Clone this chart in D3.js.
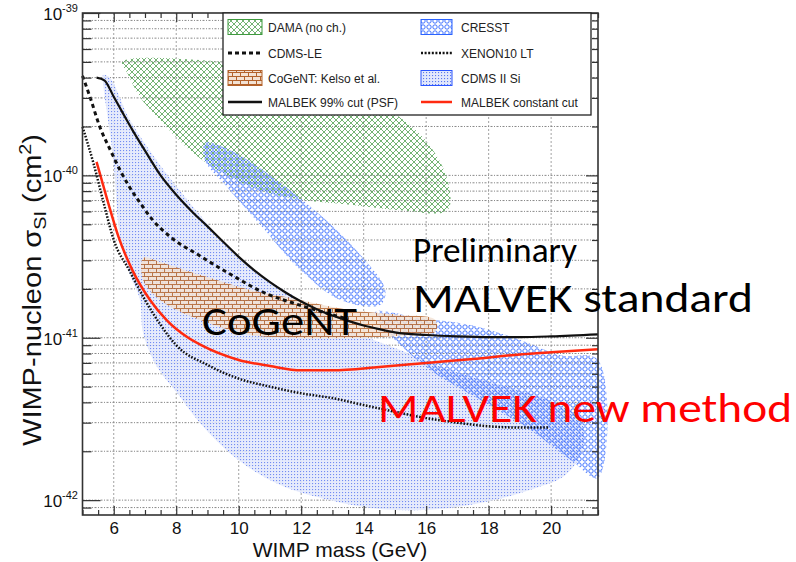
<!DOCTYPE html>
<html><head><meta charset="utf-8">
<script src="https://cdn.jsdelivr.net/npm/d3@7/dist/d3.min.js"></script>
<style>body{margin:0;background:#fff}svg{display:block}</style>
</head><body><svg id="c" width="796" height="562"></svg>
<script>
// ---------- data ----------
const massDomain = [5, 21.5];
const sigmaDomain = [8.1e-43, 1e-39];
const massTicks = [6, 8, 10, 12, 14, 16, 18, 20];
const decadeTicks = [1e-42, 1e-41, 1e-40, 1e-39];
const decadeLabels = ["-42", "-41", "-40", "-39"];

const damaRegion = [[6.27,5.0e-40],[8.76,5.14e-40],[11.97,4.15e-40],[14.53,2.71e-40],[15.97,1.65e-40],[16.68,9.4e-41],[16.68,6.1e-41],[15.17,6.1e-41],[13.57,6.6e-41],[11.97,7.1e-41],[10.69,8.1e-41],[9.5,1.03e-40],[8.44,1.43e-40],[7.39,2.29e-40],[6.84,3.04e-40],[6.43,4.28e-40]];
const cresstRegionA = [[8.92,1.58e-40],[9.73,1.43e-40],[11.01,1.0e-40],[12.61,5.7e-41],[13.89,3.24e-41],[14.69,1.97e-41],[14.53,1.59e-41],[13.25,1.71e-41],[11.97,2.62e-41],[10.69,4.96e-41],[9.57,8.73e-41],[8.92,1.24e-40]];
const cresstRegionB = [[14.37,1.44e-41],[15.81,1.32e-41],[17.42,1.2e-41],[19.02,9.7e-42],[20.3,7.8e-42],[21.5,7.3e-42],[21.5,1.37e-42],[20.62,1.77e-42],[19.34,2.7e-42],[17.74,4.14e-42],[16.13,6.34e-42],[14.85,1.04e-41]];
const cdmsSiRegion = [[5.66,4.15e-40],[5.88,3.98e-40],[6.52,2.19e-40],[7.48,1.16e-40],[8.76,5.7e-41],[9.73,3.48e-41],[10.69,2.44e-41],[11.97,1.71e-41],[13.57,1.12e-41],[15.17,8.4e-42],[16.78,6.3e-42],[18.38,5.1e-42],[19.98,4.1e-42],[20.94,3.1e-42],[21.0,2.04e-42],[20.46,1.43e-42],[19.34,1.16e-42],[17.74,9.6e-43],[16.33,8.8e-43],[14.6,8.8e-43],[12.93,1.0e-42],[11.33,1.24e-42],[9.98,1.77e-42],[8.76,2.99e-42],[8.03,4.57e-42],[7.39,6.6e-42],[6.94,1.07e-41],[6.84,1.71e-41],[6.52,2.44e-41],[6.2,4.18e-41],[5.98,1.3e-40],[5.66,3.71e-40]];
const cogentRegion = [[6.94,3.1e-41],[7.48,2.93e-41],[8.76,2.44e-41],[10.37,1.97e-41],[11.97,1.71e-41],[13.57,1.48e-41],[15.17,1.38e-41],[16.29,1.29e-41],[16.29,1.09e-41],[15.17,1.03e-41],[13.57,9.97e-42],[11.97,9.97e-42],[10.37,1.04e-41],[8.76,1.29e-41],[7.48,1.71e-41],[6.94,2.27e-41]];

const malbekPsf = [[5.45,4.0e-40],[5.7,3.85e-40],[6.0,3.05e-40],[6.3,2.4e-40],[6.6,1.9e-40],[7.0,1.42e-40],[7.5,1.0e-40],[8.0,7.6e-41],[8.5,6.0e-41],[9.0,4.85e-41],[9.5,3.9e-41],[10,3.15e-41],[10.5,2.6e-41],[11,2.2e-41],[11.5,1.9e-41],[12,1.67e-41],[12.5,1.5e-41],[13,1.37e-41],[13.5,1.27e-41],[14,1.19e-41],[14.5,1.13e-41],[15,1.08e-41],[16,1.04e-41],[17,1.02e-41],[18,1.01e-41],[19,1.01e-41],[20,1.02e-41],[21.5,1.05e-41]];
const cdmsLe = [[5.0,4.1e-40],[5.25,3.0e-40],[5.55,2.0e-40],[5.9,1.42e-40],[6.2,1.08e-40],[6.5,8.5e-41],[6.85,6.75e-41],[7.25,5.3e-41],[7.8,4.2e-41],[8.75,3.2e-41],[9.75,2.45e-41],[10.8,1.9e-41],[11.9,1.6e-41],[12.8,1.42e-41],[13.5,1.3e-41]];
const xenon10 = [[5.0,1.99e-40],[5.35,1.19e-40],[5.7,6.5e-41],[6.0,4.0e-41],[6.5,2.6e-41],[7,1.71e-41],[7.5,1.2e-41],[8,9.0e-42],[9,6.8e-42],[10,5.6e-42],[11,5.0e-42],[12,4.55e-42],[13,4.25e-42],[14,3.85e-42],[15,3.5e-42],[16,3.2e-42],[17,3.0e-42],[18,2.85e-42],[19,2.8e-42],[19.9,2.8e-42]];
const malbekConst = [[5.45,1.21e-40],[5.8,7.0e-41],[6.15,4.2e-41],[6.6,2.6e-41],[7.15,1.72e-41],[7.7,1.28e-41],[8.35,1.01e-41],[8.8,9.0e-42],[10,7.3e-42],[11,6.7e-42],[12,6.3e-42],[13,6.3e-42],[14.5,6.6e-42],[16,7.0e-42],[17.5,7.4e-42],[19,7.9e-42],[20,8.15e-42],[21.5,8.5e-42]];

const legendItems = [
  {label:"DAMA (no ch.)", kind:"fill", pat:"pDama", stroke:"#3f9a3f"},
  {label:"CRESST", kind:"fill", pat:"pCresst", stroke:"#2b63ff"},
  {label:"CDMS-LE", kind:"line", color:"#111", dash:"4,3", w:3},
  {label:"XENON10 LT", kind:"line", color:"#111", dash:"2,1.6", w:2.5},
  {label:"CoGeNT: Kelso et al.", kind:"fill", pat:"pCogent", stroke:"#b3622b"},
  {label:"CDMS II Si", kind:"fill", pat:"pSi", stroke:"#2b55ff"},
  {label:"MALBEK 99% cut (PSF)", kind:"line", color:"#111", dash:null, w:2.5},
  {label:"MALBEK constant cut", kind:"line", color:"#ff2a10", dash:null, w:2.5}
];

// ---------- layout ----------
const L = 82.5, R = 598, T = 13, B = 515;
const svg = d3.select("#c");
const x = d3.scaleLinear().domain(massDomain).range([L, R]);
const y = d3.scaleLog().domain(sigmaDomain).range([B, T]);

// patterns
const defs = svg.append("defs");
const pd = defs.append("pattern").attr("id","pDama").attr("patternUnits","userSpaceOnUse").attr("width",6).attr("height",6);
pd.append("path").attr("d","M0,0L6,6M6,0L0,6M-1,5L1,7M5,-1L7,1").attr("stroke","#4f9f4f").attr("stroke-width",0.8).attr("fill","none");
const pc = defs.append("pattern").attr("id","pCresst").attr("patternUnits","userSpaceOnUse").attr("width",6).attr("height",6);
pc.append("circle").attr("cx",3).attr("cy",3).attr("r",2.2).attr("fill","none").attr("stroke","#2b63ff").attr("stroke-width",0.9);
const pg = defs.append("pattern").attr("id","pCogent").attr("patternUnits","userSpaceOnUse").attr("width",8).attr("height",8);
pg.append("rect").attr("width",8).attr("height",8).attr("fill","#f3e2d4");
pg.append("path").attr("d","M0,0.5H8M0,4.5H8M0.5,0.5V4.5M4.5,4.5V8").attr("stroke","#b3622b").attr("stroke-width",1).attr("fill","none");
const ps = defs.append("pattern").attr("id","pSi").attr("patternUnits","userSpaceOnUse").attr("width",3).attr("height",3);
ps.append("rect").attr("width",3).attr("height",3).attr("fill","#e2e8fc");
ps.append("rect").attr("width",1.1).attr("height",1.1).attr("fill","#5a78f0");

// grid
const yMinor = [];
for (let e = -43; e <= -40; e++) for (let k = 1; k <= 9; k++) { const v = k * Math.pow(10, e); if (v >= sigmaDomain[0] && v <= sigmaDomain[1]) yMinor.push(v); }
const grid = svg.append("g");
grid.selectAll("line.h").data(yMinor).join("line").attr("x1",L).attr("x2",R).attr("y1",d=>y(d)).attr("y2",d=>y(d))
  .attr("stroke","#6a6a6a").attr("stroke-width",0.8).attr("stroke-dasharray","2,1.5,1,1.5");
grid.selectAll("line.v").data(massTicks).join("line").attr("y1",T).attr("y2",B).attr("x1",d=>x(d)).attr("x2",d=>x(d))
  .attr("stroke","#8a8a8a").attr("stroke-width",0.8).attr("stroke-dasharray","2,2");

// regions
const area = d3.line().x(d=>x(d[0])).y(d=>y(d[1])).curve(d3.curveCatmullRomClosed.alpha(0.5));
const plot = svg.append("g");
plot.append("path").datum(cdmsSiRegion).attr("d",area).attr("fill","url(#pSi)").attr("opacity",0.85);
plot.append("path").datum(damaRegion).attr("d",area).attr("fill","url(#pDama)");
plot.append("path").datum(cresstRegionA).attr("d",area).attr("fill","url(#pCresst)");
plot.append("path").datum(cresstRegionB).attr("d",area).attr("fill","url(#pCresst)");
plot.append("path").datum(cogentRegion).attr("d",area).attr("fill","url(#pCogent)").attr("opacity",0.85);

// lines
const line = d3.line().x(d=>x(d[0])).y(d=>y(d[1])).curve(d3.curveMonotoneX);
plot.append("path").datum(cdmsLe).attr("d",line).attr("fill","none").attr("stroke","#111").attr("stroke-width",3).attr("stroke-dasharray","4,3.5");
plot.append("path").datum(xenon10).attr("d",line).attr("fill","none").attr("stroke","#111").attr("stroke-width",2.5).attr("stroke-dasharray","1.6,1.6");
plot.append("path").datum(malbekPsf).attr("d",line).attr("fill","none").attr("stroke","#111").attr("stroke-width",2.2);
plot.append("path").datum(malbekConst).attr("d",line).attr("fill","none").attr("stroke","#ff2a10").attr("stroke-width",2.5);

// axes
const xMinor = d3.range(5, 21.51, 0.5).filter(v => !massTicks.includes(v));
function styleAxis(g){ g.select(".domain").remove(); g.selectAll(".tick line").attr("stroke","#333").attr("stroke-width",1.2); }
svg.append("g").attr("transform",`translate(0,${B})`).call(d3.axisBottom(x).tickValues(massTicks).tickSizeInner(-9).tickSizeOuter(0).tickPadding(7).tickFormat(d3.format("d")))
  .call(styleAxis).call(g=>g.selectAll("text").attr("font-family","Liberation Sans, Arial, sans-serif").attr("font-size",17).attr("fill","#111"));
svg.append("g").attr("transform",`translate(0,${B})`).call(d3.axisBottom(x).tickValues(xMinor).tickSizeInner(-5).tickSizeOuter(0).tickFormat(""))
  .call(styleAxis);
svg.append("g").attr("transform",`translate(0,${T})`).call(d3.axisTop(x).tickValues(massTicks).tickSizeInner(-9).tickSizeOuter(0).tickFormat("")).call(styleAxis);
svg.append("g").attr("transform",`translate(0,${T})`).call(d3.axisTop(x).tickValues(xMinor).tickSizeInner(-5).tickSizeOuter(0).tickFormat("")).call(styleAxis);
const yMinorOnly = yMinor.filter(v => !decadeTicks.some(d => Math.abs(d - v) / d < 1e-6));
svg.append("g").attr("transform",`translate(${L},0)`).call(d3.axisLeft(y).tickValues(decadeTicks).tickSizeInner(-18).tickSizeOuter(0).tickPadding(5).tickFormat(""))
  .call(styleAxis);
svg.append("g").attr("transform",`translate(${L},0)`).call(d3.axisLeft(y).tickValues(yMinorOnly).tickSizeInner(-9).tickSizeOuter(0).tickFormat("")).call(styleAxis);
svg.append("g").attr("transform",`translate(${R},0)`).call(d3.axisRight(y).tickValues(decadeTicks).tickSizeInner(-12).tickSizeOuter(0).tickFormat("")).call(styleAxis);
svg.append("g").attr("transform",`translate(${R},0)`).call(d3.axisRight(y).tickValues(yMinorOnly).tickSizeInner(-6).tickSizeOuter(0).tickFormat("")).call(styleAxis);

// y labels with superscripts
const ylab = svg.append("g").attr("font-family","Liberation Sans, Arial, sans-serif").attr("fill","#111");
decadeTicks.forEach((v,i) => {
  const t = ylab.append("text").attr("x", 78).attr("y", y(v) + 7).attr("text-anchor","end").attr("font-size",17);
  t.append("tspan").text("10");
  t.append("tspan").attr("font-size",11).attr("dy",-8).text(decadeLabels[i]);
});

// frame
svg.append("rect").attr("x",L).attr("y",T).attr("width",R-L).attr("height",B-T).attr("fill","none").attr("stroke","#333").attr("stroke-width",1.6);

// axis titles
svg.append("text").attr("x",340).attr("y",557).attr("text-anchor","middle").attr("font-family","Liberation Sans, Arial, sans-serif").attr("font-size",21).attr("fill","#111").text("WIMP mass (GeV)");
const yt = svg.append("text").attr("transform","translate(41,290) rotate(-90)").attr("text-anchor","middle").attr("font-family","Liberation Sans, Arial, sans-serif").attr("font-size",25).attr("fill","#111")
  .attr("textLength",312).attr("lengthAdjust","spacingAndGlyphs");
yt.append("tspan").text("WIMP-nucleon σ");
yt.append("tspan").attr("font-size",17).attr("dy",5).text("SI");
yt.append("tspan").attr("dy",-5).text(" (cm");
yt.append("tspan").attr("font-size",17).attr("dy",-10).text("2");
yt.append("tspan").attr("dy",10).text(")");

// legend
const lg = svg.append("g");
lg.append("rect").attr("x",223).attr("y",T).attr("width",368).attr("height",102).attr("fill","#fff").attr("stroke","#222").attr("stroke-width",1.3);
const rowY = [27, 53, 78, 102];
legendItems.forEach((it, i) => {
  const col = i % 2, row = Math.floor(i / 2);
  const sx = col === 0 ? 228 : 421, sw = col === 0 ? 34 : 31, tx = col === 0 ? 268 : 461;
  const cy = rowY[row];
  if (it.kind === "fill") {
    lg.append("rect").attr("x",sx).attr("y",cy-7.5).attr("width",sw).attr("height",15).attr("fill",`url(#${it.pat})`).attr("stroke",it.stroke).attr("stroke-width",1);
  } else {
    lg.append("line").attr("x1",sx).attr("x2",sx+sw).attr("y1",cy).attr("y2",cy).attr("stroke",it.color).attr("stroke-width",it.w).attr("stroke-dasharray",it.dash);
  }
  lg.append("text").attr("x",tx).attr("y",cy+4.5).attr("font-family","Liberation Sans, Arial, sans-serif").attr("font-size",12).attr("fill","#222").text(it.label);
});

// annotations
const ann = svg.append("g").attr("font-family","Carlito, Lato, 'Open Sans', sans-serif");
ann.append("text").attr("x",413).attr("y",262).attr("font-size",34).attr("fill","#000").attr("textLength",164).attr("lengthAdjust","spacingAndGlyphs").text("Preliminary");
ann.append("text").attr("x",413).attr("y",312).attr("font-size",42).attr("fill","#000").attr("textLength",340).attr("lengthAdjust","spacingAndGlyphs").text("MALVEK standard");
ann.append("text").attr("x",202).attr("y",335).attr("font-size",42).attr("fill","#000").attr("textLength",155).attr("lengthAdjust","spacingAndGlyphs").text("CoGeNT");
ann.append("text").attr("x",378).attr("y",422).attr("font-size",42).attr("fill","#ff0000").attr("textLength",414).attr("lengthAdjust","spacingAndGlyphs").text("MALVEK new method");
</script></body></html>
